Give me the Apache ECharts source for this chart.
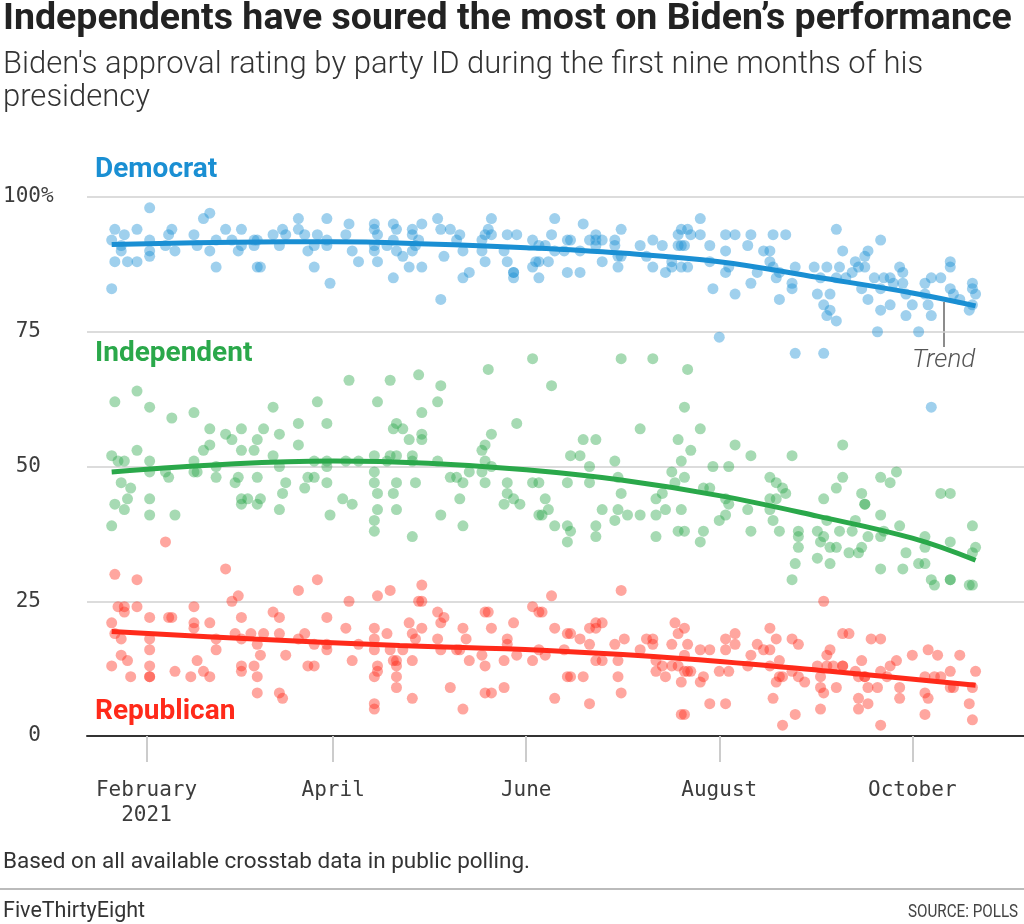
<!DOCTYPE html>
<html><head><meta charset="utf-8">
<script src="https://cdn.jsdelivr.net/npm/echarts@6/dist/echarts.min.js"></script>
<style>html,body{margin:0;padding:0;background:#fff}#c{width:1024px;height:924px}</style>
</head><body><div id="c"></div>
<script>
// x values are day-of-year 2021 (1 = Jan 1)
const tickDays = [32, 91, 152, 213, 274];
const tickLabels = ['February\n2021', 'April', 'June', 'August', 'October'];
const yTicks = [0, 25, 50, 75, 100];
const yTickLabels = ['  0', ' 25', ' 50', ' 75', '100%'];

const demPoints = [[21,83],[22,94],[21,92],[22,88],[24,91],[24,90],[25,93],[26,88],[29,94],[29,88],[33,98],[33,92],[33,90],[33,89],[38,91],[39,93],[40,94],[41,90],[47,93],[48,91],[50,96],[52,97],[52,90],[54,92],[54,87],[57,94],[59,92],[62,94],[62,91],[61,90],
[66,92],[67,92],[66,91],[67,87],[68,87],[72,93],[75,94],[76,93],[74,91],[80,96],[80,94],[82,93],[83,90],[85,91],[86,93],[85,87],[89,96],[89,92],[89,91],[90,84],[95,93],[96,95],[97,90],[99,88],[104,95],[104,94],[105,93],[104,91],[104,90],[105,88],[108,91],
[110,95],[111,94],[110,92],[111,90],[113,89],[110,85],[116,94],[116,93],[117,91],[116,90],[115,87],[119,95],[119,87],[118,92],[124,96],[125,94],[125,81],[126,89],[128,94],[131,93],[130,92],[132,90],[132,85],[134,86],[138,92],[139,93],[141,96],[140,94],[141,93],[139,88],[138,90],[145,90],[146,93],[146,88],[149,93],[148,86],[148,86],[148,85],[154,92],[154,87],[156,88],
[161,96],[170,95],[182,94],[160,93],[165,92],[166,92],[172,92],[174,93],[174,92],[176,92],[180,92],[156,91],[158,91],[161,90],[164,90],[169,90],[180,91],[174,91],[188,91],[192,92],[195,91],[200,93],[201,91],[203,94],[155,88],[159,88],[176,88],[181,87],[181,89],[182,89],[190,89],[192,87],[196,86],[198,88],[198,87],[203,87],[156,85],[165,86],[169,86],
[207,96],[201,94],[204,93],[207,93],[215,93],[218,93],[223,93],[230,93],[234,93],[200,91],[202,91],[210,91],[215,90],[222,91],[227,90],[229,90],[201,87],[210,88],[216,87],[215,86],[225,86],[229,88],[230,87],[231,85],[232,86],[236,84],[236,83],[211,83],[218,82],[223,84],[232,81],[237,87],[243,87],[245,85],[247,87],[244,82],[246,80],[248,79],[247,78],[213,74],[237,71],[246,71],
[250,94],[264,92],[252,90],[260,90],[259,89],[256,88],[257,87],[259,87],[251,87],[250,85],[253,85],[255,86],[262,85],[265,85],[267,85],[270,87],[271,86],[268,84],[271,84],[248,82],[258,83],[260,81],[264,83],[264,79],[267,80],[272,82],[274,80],[272,78],[278,84],[280,85],[283,85],[278,82],[279,80],[280,78],[286,88],[286,87],[286,83],[287,82],[289,81],[293,84],[293,83],[294,82],[292,79],[293,80],[250,77],[263,75],[276,75],[280,61]];

const indPoints = [[22,62],[29,64],[33,61],[40,59],[47,60],[52,57],[57,56],[59,55],[62,57],[50,53],[52,54],[21,52],[23,51],[25,51],[29,53],[33,51],[33,49],[38,49],[39,48],[47,51],[47,49],[48,49],[54,50],[54,48],[61,48],[60,47],[62,53],[24,47],[27,46],[26,44],[22,43],[25,42],[33,44],[33,41],[41,41],[21,39],[62,44],[62,43],
[96,66],[105,62],[86,62],[72,61],[69,57],[67,55],[66,53],[74,56],[80,58],[89,58],[80,54],[72,52],[74,50],[85,51],[89,51],[95,51],[99,51],[104,52],[108,51],[89,50],[67,48],[83,48],[85,48],[104,49],[76,47],[89,47],[104,47],[82,46],[75,45],[105,45],[64,44],[68,44],[94,44],[67,43],[97,43],[74,42],[105,42],[90,41],[104,40],[104,38],
[109,66],[118,67],[125,65],[124,62],[119,60],[140,68],[154,70],[110,57],[111,58],[113,57],[115,55],[119,56],[119,55],[109,52],[111,52],[116,52],[116,51],[124,51],[149,58],[141,56],[139,54],[138,53],[139,51],[141,50],[111,47],[117,47],[128,48],[130,48],[132,47],[134,49],[138,49],[139,47],[110,45],[111,42],[116,37],[125,41],[131,44],[132,39],[146,47],[146,45],[148,44],[145,43],[150,43],[154,47],[157,41],
[182,70],[192,70],[160,65],[203,68],[202,61],[188,57],[170,55],[174,55],[200,55],[166,52],[169,52],[180,51],[172,50],[156,47],[165,47],[172,47],[181,48],[198,49],[199,47],[158,44],[159,42],[156,41],[182,45],[176,42],[181,42],[184,41],[188,41],[193,44],[195,45],[196,42],[193,41],[161,39],[165,39],[166,38],[165,36],[174,39],[174,37],[180,40],[193,37],[202,38],
[207,57],[204,53],[201,51],[218,54],[223,52],[236,52],[211,50],[216,50],[202,48],[229,48],[231,47],[233,46],[234,45],[208,46],[210,46],[201,42],[215,44],[216,43],[215,41],[213,40],[222,42],[229,44],[231,44],[229,42],[230,40],[246,44],[200,38],[208,38],[207,36],[223,38],[232,38],[238,38],[238,37],[238,35],[244,38],[245,36],[246,37],[248,35],[247,40],[237,32],[236,29],[244,33],
[252,54],[252,48],[250,46],[264,48],[267,47],[269,49],[283,45],[286,45],[258,45],[259,43],[259,43],[264,41],[270,39],[256,40],[251,38],[255,38],[260,37],[265,38],[264,37],[250,35],[254,34],[257,34],[258,35],[248,32],[272,34],[278,37],[278,35],[286,36],[293,39],[294,35],[293,34],[264,31],[271,31],[276,32],[278,32],[280,29],[281,28],[286,29],[286,29],[292,28],[293,28]];

const repPoints = [[38,36],[22,30],[29,29],[57,31],[61,26],[59,25],[23,24],[25,24],[25,23],[29,24],[47,24],[21,21],[33,22],[39,22],[40,22],[47,21],[47,20],[52,21],[62,22],[22,19],[24,18],[33,18],[33,16],[60,19],[62,18],[54,18],[54,16],[24,15],[26,14],[21,13],[33,13],[33,11],[33,11],[48,14],[50,12],[52,11],[41,12],[46,11],[27,11],[62,13],[62,12],
[86,29],[80,27],[105,26],[96,25],[72,23],[74,22],[89,22],[65,19],[69,19],[74,19],[82,19],[95,20],[104,20],[108,19],[80,18],[85,17],[89,17],[89,16],[99,17],[104,18],[104,16],[67,17],[68,15],[76,15],[66,13],[83,13],[85,13],[97,14],[105,13],[105,12],[67,11],[104,11],[67,8],[74,8],[75,7],[104,6],[104,5],
[109,27],[119,28],[119,25],[118,25],[124,23],[126,22],[125,21],[115,21],[119,20],[139,23],[140,23],[141,20],[132,20],[148,21],[154,24],[157,23],[109,16],[110,14],[111,14],[111,13],[111,11],[111,9],[116,19],[117,18],[113,16],[116,14],[124,18],[125,16],[130,16],[133,18],[131,16],[134,14],[138,15],[139,13],[146,18],[146,17],[149,15],[145,14],[154,14],[156,16],[128,9],[139,8],[141,8],[145,9],[116,7],[132,5],
[160,26],[182,27],[156,23],[161,20],[165,19],[166,19],[169,18],[172,20],[174,21],[174,20],[176,21],[180,17],[183,18],[190,18],[192,18],[192,17],[198,17],[199,21],[200,19],[158,15],[164,16],[172,17],[174,14],[176,14],[181,14],[188,16],[193,14],[195,13],[198,13],[202,15],[203,12],[165,11],[166,11],[170,11],[181,11],[193,12],[196,11],[161,7],[172,6],[182,8],[202,4],
[246,25],[202,20],[203,17],[207,16],[210,16],[215,18],[218,19],[218,17],[215,16],[225,17],[227,16],[229,20],[231,18],[236,18],[238,17],[229,16],[200,13],[202,12],[204,12],[208,11],[207,10],[213,12],[216,12],[222,13],[223,15],[229,13],[232,14],[232,11],[233,11],[236,12],[238,11],[240,10],[244,13],[245,11],[247,15],[247,13],[201,10],[231,10],[230,7],[245,9],[246,8],[210,6],[215,6],[201,4],[237,4],[233,2],[245,5],
[252,19],[254,19],[261,18],[264,18],[248,16],[249,13],[252,13],[252,13],[258,14],[256,12],[259,11],[269,14],[267,13],[274,15],[279,16],[282,15],[289,15],[294,12],[286,12],[250,9],[257,11],[260,9],[263,9],[266,11],[270,9],[278,11],[281,11],[283,11],[286,9],[287,9],[293,9],[259,11],[264,12],[278,8],[257,7],[257,5],[260,6],[270,7],[279,7],[292,6],[278,4],[293,3],[264,2]];

const demTrend = [[21,91.2],[60,91.6],[91,91.7],[121,91.3],[152,90.6],[182,89.6],[213,88.0],[244,85.1],[274,82.2],[294,79.8]];
const indTrend = [[21,49.0],[60,50.5],[91,51.0],[121,50.6],[152,49.4],[182,47.5],[213,44.6],[244,40.8],[274,36.7],[294,32.6]];
const repTrend = [[21,19.4],[66,18.0],[112,16.8],[157,15.9],[203,14.3],[248,12.0],[294,9.4]];

const seriesNames = ['Democrat', 'Independent', 'Republican'];
const colors = {Democrat: '#1a8fd3', Independent: '#2aa84a', Republican: '#ff2a1a'};

const chart = echarts.init(document.getElementById('c'), null, {renderer: 'canvas'});

function dots(name, data) {
  return {type: 'scatter', name, data, symbol: 'circle', symbolSize: 11, silent: true,
    itemStyle: {color: colors[name], opacity: 0.42}, z: 2};
}
function trend(name, data) {
  return {type: 'line', name: name + ' trend', data, smooth: 0.4, showSymbol: false, silent: true,
    lineStyle: {color: colors[name], width: 5}, z: 3};
}

const option = {
  backgroundColor: '#fff',
  animation: false,
  grid: {left: 83, right: 0, top: 197, bottom: 188},
  xAxis: {
    type: 'value', min: 13.2, max: 309.3,
    splitLine: {show: false},
    axisLine: {show: true, lineStyle: {color: '#333', width: 2}},
    axisTick: {show: true, customValues: tickDays, length: 26, lineStyle: {color: '#cccccc', width: 2}},
    axisLabel: {show: true, customValues: tickDays, margin: 42,
      formatter: v => tickLabels[tickDays.indexOf(v)],
      fontFamily: 'DejaVu Sans Mono', fontSize: 21, lineHeight: 25, color: '#3c3c3c'}
  },
  yAxis: {
    type: 'value', min: 0, max: 100, interval: 25,
    axisLine: {show: false}, axisTick: {show: false},
    splitLine: {show: true, lineStyle: {color: '#d0d0d0', width: 1.5}},
    axisLabel: {align: 'left', margin: 84,
      formatter: v => yTickLabels[yTicks.indexOf(v)],
      fontFamily: 'DejaVu Sans Mono', fontSize: 21, color: '#3c3c3c'}
  },
  series: [
    dots('Democrat', demPoints), dots('Independent', indPoints), dots('Republican', repPoints),
    trend('Democrat', demTrend), trend('Independent', indTrend), trend('Republican', repTrend)
  ],
  graphic: [
    {type: 'text', x: 3, y: 20, style: {text: 'Independents have soured the most on Biden’s performance', font: 'bold 37.5px Roboto', fill: '#222', verticalAlign: 'middle'}},
    {type: 'text', x: 3, y: 65, style: {text: "Biden's approval rating by party ID during the first nine months of his", font: '300 31px Roboto', fill: '#333', verticalAlign: 'middle'}},
    {type: 'text', x: 3, y: 98, style: {text: 'presidency', font: '300 31px Roboto', fill: '#333', verticalAlign: 'middle'}},
    {type: 'text', x: 95, y: 170, style: {text: seriesNames[0], font: 'bold 28px Roboto', fill: colors.Democrat, verticalAlign: 'middle'}},
    {type: 'text', x: 95, y: 354, style: {text: seriesNames[1], font: 'bold 28px Roboto', fill: colors.Independent, verticalAlign: 'middle'}},
    {type: 'text', x: 95, y: 712, style: {text: seriesNames[2], font: 'bold 28px Roboto', fill: colors.Republican, verticalAlign: 'middle'}},
    {type: 'line', shape: {x1: 944, y1: 302, x2: 944, y2: 347}, style: {stroke: '#666', lineWidth: 1.5}},
    {type: 'text', x: 912, y: 360, style: {text: 'Trend', font: 'italic 300 26px Roboto', fill: '#555', verticalAlign: 'middle'}},
    {type: 'text', x: 3, y: 862, style: {text: 'Based on all available crosstab data in public polling.', font: '22.5px Roboto', fill: '#333', verticalAlign: 'middle'}},
    {type: 'line', shape: {x1: 0, y1: 889, x2: 1024, y2: 889}, style: {stroke: '#bbb', lineWidth: 2}},
    {type: 'text', x: 3, y: 912, style: {text: 'FiveThirtyEight', font: '21.5px Roboto', fill: '#333', verticalAlign: 'middle'}},
    {type: 'text', x: 908, y: 912, scaleX: 0.8, style: {text: 'SOURCE: POLLS', font: '19px Roboto', fill: '#444', verticalAlign: 'middle'}}
  ]
};
chart.setOption(option);
</script>
</body></html>
